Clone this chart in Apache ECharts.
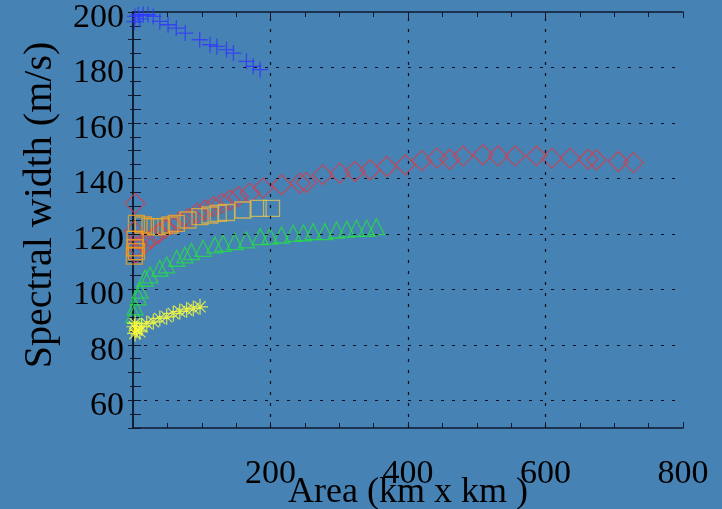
<!DOCTYPE html>
<html>
<head>
<meta charset="utf-8">
<script src="https://cdn.jsdelivr.net/npm/echarts@6/dist/echarts.min.js"></script>
<style>
  html, body { margin: 0; padding: 0; background: #4682b4; }
  #main { width: 722px; height: 509px; }
</style>
</head>
<body>
<div id="main"></div>
<script>
// values
var plusX = [3, 7.7, 15, 22, 29.5, 39, 51, 63, 76, 97, 112, 122, 136, 146, 165, 175, 185, 2, 10];
var plusY = [198.4, 199, 199, 199, 198.4, 196.6, 195.4, 194.2, 192.4, 190, 188.2, 187.6, 186.4, 185.2, 182.2, 180.4, 179.2, 196.5, 197.5];

var diamondX = [2, 3, 4, 5, 7.5, 17.5, 27, 37, 46.5, 56, 68, 80, 93, 105, 117, 129, 141, 153, 170, 189, 216, 243, 252, 276, 301, 323, 345, 369, 396, 420, 442, 461, 480, 509, 531, 556, 587, 609, 636, 662, 674, 706, 728];
var diamondY = [121, 131, 113, 115.4, 117.8, 116.6, 118.4, 120.2, 122, 123.2, 124.4, 125.6, 127.4, 128.6, 129.8, 131, 132.2, 133.4, 134.7, 136.5, 137.7, 138.3, 138.5, 141.3, 141.9, 142.5, 143.1, 144.3, 144.9, 146.4, 147.3, 146.9, 148.1, 148.5, 148.1, 148.1, 148.1, 147.3, 147.3, 146.9, 146.7, 146.1, 145.7];

var squareX = [2, 3, 3, 5, 5, 15, 24.7, 32, 41.5, 53.6, 63, 80, 97.5, 112, 124, 136, 160, 182, 201.5];
var squareY = [112, 115, 118, 113.6, 123.8, 123.2, 122.6, 122.6, 122.6, 123.2, 123.8, 125, 126.2, 126.8, 127.4, 127.7, 128.6, 129.2, 129.2];

var triX = [1.5, 3, 7.7, 10, 17.5, 24.7, 39, 49, 63.6, 75.6, 85, 102, 119, 131, 148, 165, 185, 199, 216, 233, 248, 262, 279, 296, 311, 325, 340, 354];
var triY = [91, 93.7, 97.3, 99.7, 104, 105.2, 107.6, 108.8, 111.2, 112.4, 113.6, 114.8, 116, 116.6, 117.2, 117.8, 119, 119.2, 119.6, 120.2, 120.4, 120.8, 120.8, 121.4, 121.7, 122, 122, 122.6];

var starX = [2, 3, 3, 5.4, 10, 12.6, 20, 29.5, 39, 49, 58.6, 68, 78, 87.7, 97.5];
var starY = [86.5, 84.1, 87.7, 85.3, 84.7, 86.5, 87.7, 88.3, 89.5, 90.1, 91.3, 92, 92.6, 93.1, 93.7];

var xTicks = [200, 400, 600];
var yTicks = [60, 80, 100, 120, 140, 160, 180];

function pairs(xs, ys) {
  return xs.map(function (x, i) { return [x, ys[i]]; });
}

// squares fade from orange to pale gold along x
function squareColor(x) {
  var t = Math.min(1, x / 200);
  var r = Math.round(245 - 25 * t), g = Math.round(160 + 35 * t), b = Math.round(20 + 70 * t);
  return 'rgb(' + r + ',' + g + ',' + b + ')';
}

var font = 'Liberation Serif';
var axisCol = '#0f1a2e';

var myChart = echarts.init(document.getElementById('main'));

function hollow(c, w) {
  return { color: 'rgba(0,0,0,0)', borderColor: c, borderWidth: w || 1.2 };
}

var option = {
  backgroundColor: '#4682b4',
  animation: false,
  grid: { left: 133, right: 39, top: 12, bottom: 81, containLabel: false, outerBoundsMode: 'none' },
  xAxis: [{
    type: 'value', min: 0, max: 800, interval: 200,
    name: 'Area (km x km )', nameLocation: 'middle', nameGap: 47, nameMoveOverlap: false,
    nameTextStyle: { fontFamily: font, fontSize: 36, color: '#000' },
    axisLine: { show: true, lineStyle: { color: axisCol, width: 1.5 } },
    axisTick: { show: true, inside: true, length: 6, lineStyle: { color: axisCol } },
    minorTick: { show: true, splitNumber: 4, length: 5, lineStyle: { color: axisCol } },
    axisLabel: {
      fontFamily: font, fontSize: 34, color: '#000', margin: 29,
      formatter: function (v) { return v === 0 ? '' : v; }
    },
    splitLine: { show: false }
  }, {
    type: 'value', min: 0, max: 800, interval: 200, position: 'top',
    axisLine: { show: true, lineStyle: { color: axisCol, width: 1.5 } },
    axisTick: { show: true, inside: true, length: 6, lineStyle: { color: axisCol } },
    minorTick: { show: true, splitNumber: 4, length: 5, lineStyle: { color: axisCol } },
    axisLabel: { show: false },
    splitLine: { show: false }
  }],
  yAxis: [{
    type: 'value', min: 50, max: 200, interval: 10,
    name: 'Spectral width (m/s)', nameLocation: 'middle', nameGap: 73, nameMoveOverlap: false,
    nameTextStyle: { fontFamily: font, fontSize: 40, color: '#000', padding: [0, 0, 0, 30] },
    axisLine: { show: true, lineStyle: { color: axisCol, width: 1.5 } },
    axisTick: { show: true, inside: true, length: 8, lineStyle: { color: axisCol } },
    minorTick: { show: true, splitNumber: 2, length: 8, lineStyle: { color: axisCol } },
    axisLabel: {
      margin: 9,
      formatter: function (v) { return v % 20 === 0 ? '{t|' + v + '}' : ''; },
      rich: {
        t: { fontFamily: font, fontSize: 34, color: '#000', padding: [12, 0, 0, 0] }
      }
    },
    splitLine: { show: false }
  }, {
    type: 'value', min: 50, max: 200, interval: 10, position: 'right',
    axisLine: { show: true, lineStyle: { color: axisCol, width: 1.5 } },
    axisTick: { show: true, inside: true, length: 5, lineStyle: { color: axisCol } },
    minorTick: { show: true, splitNumber: 2, length: 3, lineStyle: { color: axisCol } },
    axisLabel: { show: false },
    splitLine: { show: false }
  }],
  series: [
    {
      type: 'scatter', silent: true, data: [],
      markLine: {
        silent: true, symbol: 'none', label: { show: false },
        lineStyle: { color: '#0a1222', width: 1.2, type: [3, 8] },
        data: xTicks.map(function (v) { return { xAxis: v }; })
          .concat(yTicks.map(function (v) { return { yAxis: v }; }))
      }
    },
    {
      type: 'scatter', data: pairs(plusX, plusY),
      symbol: 'path://M0,-10L0,10M-10,0L10,0', symbolSize: 16,
      itemStyle: hollow('#2f36ff', 1.3)
    },
    {
      type: 'scatter', data: pairs(diamondX, diamondY),
      symbol: 'diamond', symbolSize: [20, 20],
      itemStyle: hollow('#d2404e', 1.3)
    },
    {
      type: 'scatter',
      data: pairs(squareX, squareY).map(function (p) {
        return { value: p, itemStyle: { borderColor: squareColor(p[0]) } };
      }),
      symbol: 'rect', symbolSize: 16,
      itemStyle: hollow('#eeb030', 1.3)
    },
    {
      type: 'scatter', data: pairs(triX, triY),
      symbol: 'triangle', symbolSize: 16,
      itemStyle: hollow('#25de45', 1.3)
    },
    {
      type: 'scatter', data: pairs(starX, starY),
      symbol: 'path://M0,-10L0,10M-10,0L10,0M-7,-7L7,7M-7,7L7,-7', symbolSize: 16,
      itemStyle: hollow('#ffff3a', 1.2)
    }
  ]
};

myChart.setOption(option);
</script>
</body>
</html>
